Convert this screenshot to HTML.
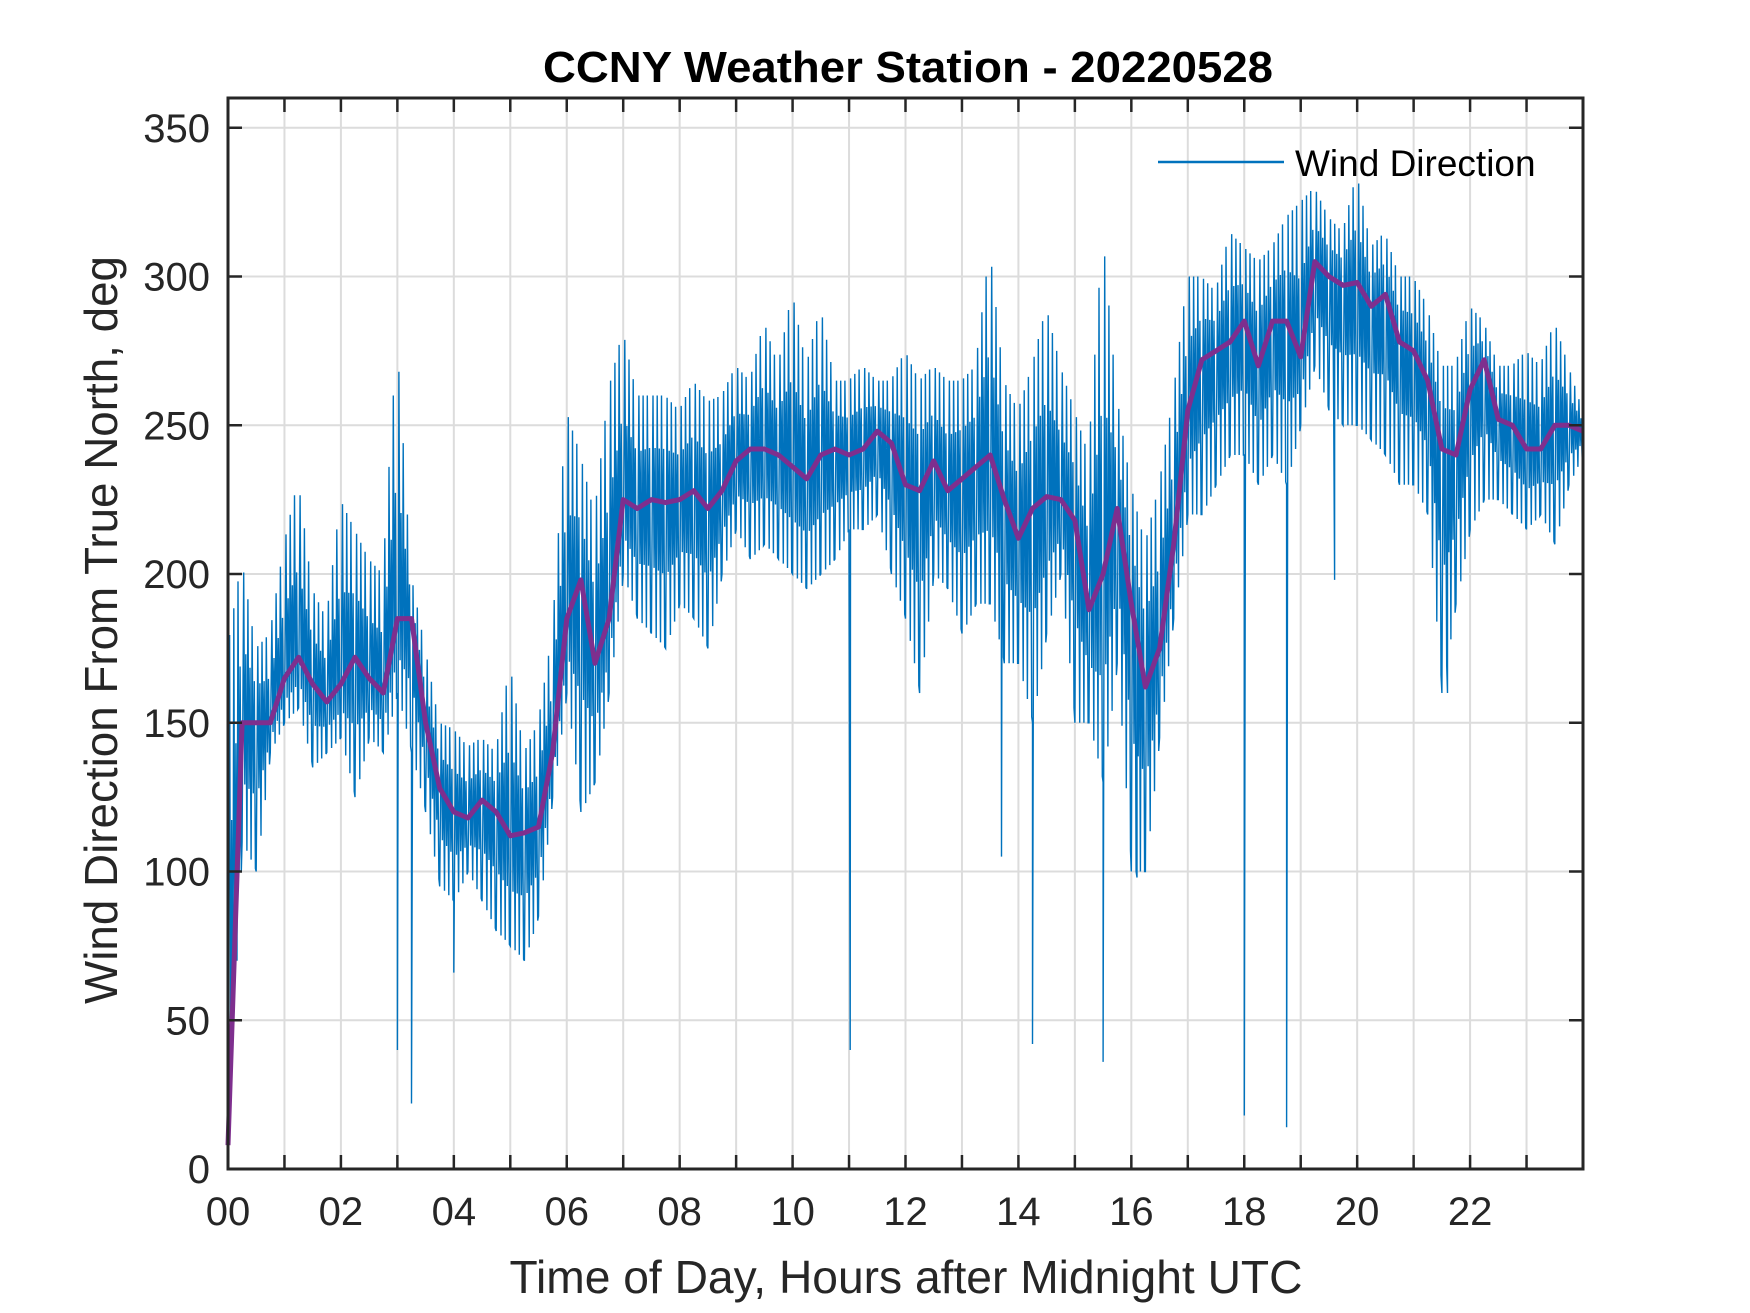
<!DOCTYPE html>
<html><head><meta charset="utf-8"><style>
html,body{margin:0;padding:0;background:#fff;}
svg{display:block;font-family:"Liberation Sans",Arial,sans-serif;}
</style></head><body>
<svg id="chart" width="1750" height="1313" viewBox="0 0 1750 1313">
<rect x="0" y="0" width="1750" height="1313" fill="#fff"/>
<g id="grid"></g>
<g id="plot"></g>
<g id="axes"></g>
<text x="908" y="82" font-size="44" font-weight="bold" text-anchor="middle" textLength="730" lengthAdjust="spacingAndGlyphs" fill="#000">CCNY Weather Station - 20220528</text>
<text x="906" y="1293" font-size="46" text-anchor="middle" textLength="793" lengthAdjust="spacingAndGlyphs" fill="#262626">Time of Day, Hours after Midnight UTC</text>
<text x="0" y="0" transform="translate(117,630) rotate(-90)" font-size="46" text-anchor="middle" textLength="748" lengthAdjust="spacingAndGlyphs" fill="#262626">Wind Direction From True North, deg</text>
<g>
<line x1="1158" y1="162" x2="1284" y2="162" stroke="#0072BD" stroke-width="2.5"/>
<text x="1295" y="176" font-size="37" fill="#000">Wind Direction</text>
</g>
</svg>
<script>
const xTicks=[0,2,4,6,8,10,12,14,16,18,20,22];
const xTickLabels=["00","02","04","06","08","10","12","14","16","18","20","22"];
const yTicks=[0,50,100,150,200,250,300,350];
const yTickLabels=["0","50","100","150","200","250","300","350"];
const sampleTimes=[0,0.25,0.5,0.75,1,1.25,1.5,1.75,2,2.25,2.5,2.75,3,3.25,3.5,3.75,4,4.25,4.5,4.75,5,5.25,5.5,5.75,6,6.25,6.5,6.75,7,7.25,7.5,7.75,8,8.25,8.5,8.75,9,9.25,9.5,9.75,10,10.25,10.5,10.75,11,11.25,11.5,11.75,12,12.25,12.5,12.75,13,13.25,13.5,13.75,14,14.25,14.5,14.75,15,15.25,15.5,15.75,16,16.25,16.5,16.75,17,17.25,17.5,17.75,18,18.25,18.5,18.75,19,19.25,19.5,19.75,20,20.25,20.5,20.75,21,21.25,21.5,21.75,22,22.25,22.5,22.75,23,23.25,23.5,23.75,24];
const smoothValues=[8,150,150,150,165,172,163,157,163,172,165,160,185,185,150,128,120,118,124,120,112,113,115,140,185,198,170,185,225,222,225,224,225,228,222,228,238,242,242,240,236,232,240,242,240,242,248,244,230,228,238,228,232,236,240,225,212,222,226,225,218,188,200,222,190,162,175,210,255,272,275,278,285,270,285,285,273,305,300,297,298,290,294,278,275,265,242,240,262,272,252,250,242,242,250,250,248];
const windLow=[10,110,100,140,150,155,135,140,145,125,145,140,160,140,120,95,90,100,90,80,75,70,85,125,160,120,130,160,200,185,180,175,190,185,175,200,215,205,210,205,200,195,200,205,215,215,220,200,185,160,200,195,180,190,190,170,170,150,180,200,150,150,130,170,100,100,145,185,220,220,230,240,240,230,240,230,250,270,255,250,250,245,240,230,230,220,160,190,215,225,225,220,215,220,210,230,240];
const windHigh=[175,205,175,180,210,232,195,185,225,215,205,200,280,200,175,150,148,142,145,140,170,140,150,180,255,240,220,262,282,260,260,260,255,265,258,260,270,265,285,270,295,270,290,265,265,270,265,265,275,265,270,265,265,270,310,265,255,270,290,270,255,240,315,260,230,210,230,260,300,300,295,315,310,305,310,320,325,330,320,315,335,310,315,300,300,290,270,270,290,285,270,270,275,270,285,270,255];
const spikeTimes=[3.0,3.25,4.0,11.02,13.7,14.25,15.5,16.1,18.0,18.75,19.6,21.6];
const spikeValues=[40,22,66,40,105,42,36,98,18,14,198,160];

const L=228,R=1583,T=98,B=1169,XMAX=24,YMAX=360;
const NS="http://www.w3.org/2000/svg";
function xs(v){return L+(v/XMAX)*(R-L);}
function ys(v){return B-(v/YMAX)*(B-T);}
function mk(tag,attrs,parent){const e=document.createElementNS(NS,tag);for(const k in attrs)e.setAttribute(k,attrs[k]);parent.appendChild(e);return e;}
const grid=document.getElementById('grid'),plot=document.getElementById('plot'),axes=document.getElementById('axes');
for(let h=1;h<XMAX;h++){
  const g=mk('line',{x1:xs(h),x2:xs(h),y1:T,y2:B,stroke:'#dcdcdc','stroke-width':2},grid);
  
  
  for(const [a,b] of [[B,B-14],[T,T+14]]){
    const t=mk('line',{x1:xs(h),x2:xs(h),y1:a,y2:b,stroke:'#262626','stroke-width':2.5},axes);
    
    
  }
}
yTicks.forEach((v,i)=>{
  if(v>0){
    const g=mk('line',{x1:L,x2:R,y1:ys(v),y2:ys(v),stroke:'#dcdcdc','stroke-width':2},grid);
    
    
  }
  for(const [a,b] of [[L,L+14],[R,R-14]]){
    const t=mk('line',{x1:a,x2:b,y1:ys(v),y2:ys(v),stroke:'#262626','stroke-width':2.5},axes);
    
    
  }
  const lb=mk('text',{x:210,y:ys(v)+14,'font-size':40,'text-anchor':'end',fill:'#262626'},axes);
  lb.textContent=yTickLabels[i];
  
  
});
xTicks.forEach((v,i)=>{
  const lb=mk('text',{x:xs(v),y:1225,'font-size':40,'text-anchor':'middle',fill:'#262626'},axes);
  lb.textContent=xTickLabels[i];
  
  
});
let pts=[];
const dt=sampleTimes[1]-sampleTimes[0];
for(let i=0;i<sampleTimes.length;i++){
  const t=sampleTimes[i];
  pts.push([t,windLow[i]]);
  if(i<sampleTimes.length-1){
    const sub=[0.15,0.3,0.45,0.6,0.75,0.9];
    sub.forEach((f,k)=>{
      const lo=windLow[i]+(windLow[i+1]-windLow[i])*f, hi=windHigh[i]+(windHigh[i+1]-windHigh[i])*f;
      const mid=(smoothValues[i]+(smoothValues[i+1]-smoothValues[i])*f);
      const top=(k%2===0)?hi:mid+(hi-mid)*0.5;
      const bot=(k%2===0)?mid-(mid-lo)*0.5:lo;
      pts.push([t+dt*f-dt*0.04,top]);
      pts.push([t+dt*f+dt*0.04,bot]);
    });
  }
}
spikeTimes.forEach((st,i)=>{
  let j=pts.findIndex(p=>p[0]>st);
  if(j<0)j=pts.length;
  pts.splice(j,0,[st,spikeValues[i]]);
});
pts.sort((a,b)=>a[0]-b[0]);
const blue=mk('polyline',{points:pts.map(p=>xs(p[0]).toFixed(1)+','+ys(p[1]).toFixed(1)).join(' '),fill:'none',stroke:'#0072BD','stroke-width':1.4,'stroke-linejoin':'miter'},plot);


const purple=mk('polyline',{points:sampleTimes.map((t,i)=>xs(t).toFixed(1)+','+ys(smoothValues[i]).toFixed(1)).join(' '),fill:'none',stroke:'#7E2F8E','stroke-width':5,'stroke-linejoin':'round'},plot);


const box=mk('rect',{x:L,y:T,width:R-L,height:B-T,fill:'none',stroke:'#262626','stroke-width':3},axes);


</script>
</body></html>
